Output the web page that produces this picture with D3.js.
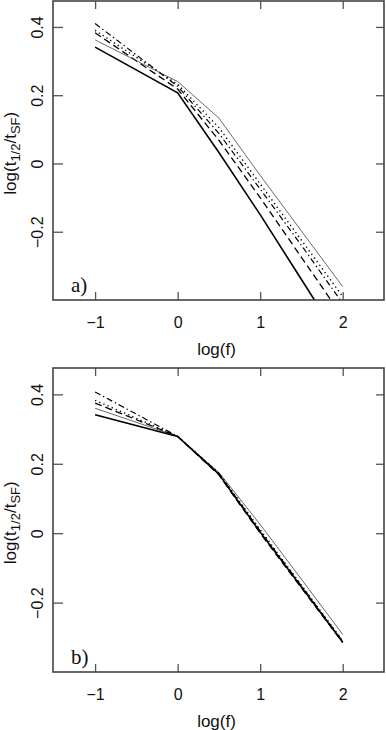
<!DOCTYPE html>
<html>
<head>
<meta charset="utf-8">
<script src="https://cdn.jsdelivr.net/npm/d3@7"></script>
<style>
  body { margin: 0; background: #fff; }
  svg { display: block; }
  .tick text { font-family: "Liberation Sans", Arial, sans-serif; }
</style>
</head>
<body>
<div id="root"></div>
<script>
// log(f) sample points
var logF = [-1, 0, 0.5, 1, 1.5, 2];

// panel a) values of log(t1/2 / tSF)
var aSolid   = [0.341, 0.207, 0.032, -0.150, -0.340, -0.530];
var aDashed  = [0.383, 0.218, 0.068, -0.100, -0.275, -0.450];
var aDashDot = [0.410, 0.226, 0.088, -0.075, -0.240, -0.410];
var aDotted  = [0.390, 0.232, 0.105, -0.060, -0.225, -0.390];
var aThin    = [0.362, 0.240, 0.133, -0.035, -0.198, -0.361];

// panel b) values
var bSolid   = [0.341, 0.279, 0.170, 0.003, -0.155, -0.314];
var bDashed  = [0.375, 0.279, 0.168, 0.000, -0.158, -0.315];
var bDashDot = [0.407, 0.279, 0.172, 0.006, -0.152, -0.312];
var bDotted  = [0.383, 0.279, 0.173, 0.010, -0.150, -0.310];
var bThin    = [0.360, 0.279, 0.175, 0.025, -0.133, -0.292];

// axis ticks
var xTicks = [-1, 0, 1, 2];
var xTickLabels = ["\u22121", "0", "1", "2"];
var yTicks = [-0.2, 0, 0.2, 0.4];
var yTickLabels = ["\u22120.2", "0", "0.2", "0.4"];

var width = 386, height = 730;

var svg = d3.select("#root")
            .append("svg")
            .attr("width", width)
            .attr("height", height);

// line styles by series
var styles = {
  solid:   {stroke: "#000", width: 1.6, dash: null},
  dashed:  {stroke: "#000", width: 1.3, dash: "7,4"},
  dashdot: {stroke: "#000", width: 1.2, dash: "6,3,1.4,3"},
  dotted:  {stroke: "#000", width: 1.4, dash: "1.3,3.2"},
  thin:    {stroke: "#444", width: 0.8, dash: null}
};

function drawPanel(id, top, bottom, series, label) {
  var left = 53, right = 384;

  var x = d3.scaleLinear().domain([-1.51, 2.5]).range([left, right]);
  var y = d3.scaleLinear().domain([-0.4, 0.476]).range([bottom, top]);

  var g = svg.append("g");

  // clip for lines leaving the box
  svg.append("defs").append("clipPath")
     .attr("id", "clip" + id)
     .append("rect")
     .attr("x", left).attr("y", top)
     .attr("width", right - left).attr("height", bottom - top);

  var line = d3.line()
               .x(function (d, i) { return x(logF[i]); })
               .y(function (d) { return y(d); });

  g.append("g")
   .attr("clip-path", "url(#clip" + id + ")")
   .selectAll("path")
   .data(series)
   .enter().append("path")
   .attr("d", function (d) { return line(d.values); })
   .attr("fill", "none")
   .attr("stroke", function (d) { return styles[d.style].stroke; })
   .attr("stroke-width", function (d) { return styles[d.style].width; })
   .attr("stroke-dasharray", function (d) { return styles[d.style].dash; });

  // axes, ticks pointing inward
  var xb = g.append("g")
            .attr("transform", "translate(0," + bottom + ")")
            .call(d3.axisBottom(x).tickValues(xTicks)
                    .tickFormat(function (d, i) { return xTickLabels[i]; })
                    .tickSizeInner(-8).tickSizeOuter(0).tickPadding(17));
  var xt = g.append("g")
            .attr("transform", "translate(0," + top + ")")
            .call(d3.axisTop(x).tickValues(xTicks).tickFormat("")
                    .tickSizeInner(-8).tickSizeOuter(0));
  var yl = g.append("g")
            .attr("transform", "translate(" + left + ",0)")
            .call(d3.axisLeft(y).tickValues(yTicks)
                    .tickFormat(function (d, i) { return yTickLabels[i]; })
                    .tickSizeInner(-10).tickSizeOuter(0));
  var yr = g.append("g")
            .attr("transform", "translate(" + right + ",0)")
            .call(d3.axisRight(y).tickValues(yTicks).tickFormat("")
                    .tickSizeInner(-8).tickSizeOuter(0));

  [xb, xt, yl, yr].forEach(function (a) {
    a.select(".domain").remove();
    a.selectAll(".tick line").attr("stroke", "#555").attr("stroke-width", 1.3);
  });

  xb.selectAll(".tick text")
    .attr("font-size", 16)
    .attr("fill", "#111");

  // rotated y tick labels
  yl.selectAll(".tick text")
    .attr("font-size", 16)
    .attr("fill", "#111")
    .attr("x", null).attr("dy", null)
    .attr("text-anchor", "middle")
    .attr("transform", "translate(-10,0) rotate(-90)");

  // frame
  g.append("rect")
   .attr("x", left).attr("y", top)
   .attr("width", right - left).attr("height", bottom - top)
   .attr("fill", "none")
   .attr("stroke", "#444")
   .attr("stroke-width", 1.6);

  // axis titles
  g.append("text")
   .attr("x", (left + right) / 2 - 2)
   .attr("y", bottom + 55)
   .attr("text-anchor", "middle")
   .attr("font-family", "Liberation Sans, Arial, sans-serif")
   .attr("font-size", 17)
   .attr("fill", "#111")
   .text("log(f)");

  var yt = g.append("text")
            .attr("transform", "translate(16," + (y(0.03)) + ") rotate(-90)")
            .attr("text-anchor", "middle")
            .attr("font-family", "Liberation Sans, Arial, sans-serif")
            .attr("font-size", 17)
            .attr("fill", "#111");
  yt.append("tspan").text("log(t");
  yt.append("tspan").attr("font-size", 13).attr("dy", 4).text("1/2");
  yt.append("tspan").attr("dy", -4).text("/t");
  yt.append("tspan").attr("font-size", 13).attr("dy", 4).text("SF");
  yt.append("tspan").attr("dy", -4).text(")");

  // panel label
  g.append("text")
   .attr("x", 71)
   .attr("y", bottom - 8)
   .attr("font-family", "Liberation Serif, Times New Roman, serif")
   .attr("font-size", 21)
   .attr("fill", "#111")
   .text(label);
}

drawPanel("a", 1, 300, [
  {style: "solid", values: aSolid},
  {style: "dashed", values: aDashed},
  {style: "dashdot", values: aDashDot},
  {style: "dotted", values: aDotted},
  {style: "thin", values: aThin}
], "a)");

drawPanel("b", 368, 672, [
  {style: "thin", values: bThin},
  {style: "dotted", values: bDotted},
  {style: "dashdot", values: bDashDot},
  {style: "dashed", values: bDashed},
  {style: "solid", values: bSolid}
], "b)");
</script>
</body>
</html>
